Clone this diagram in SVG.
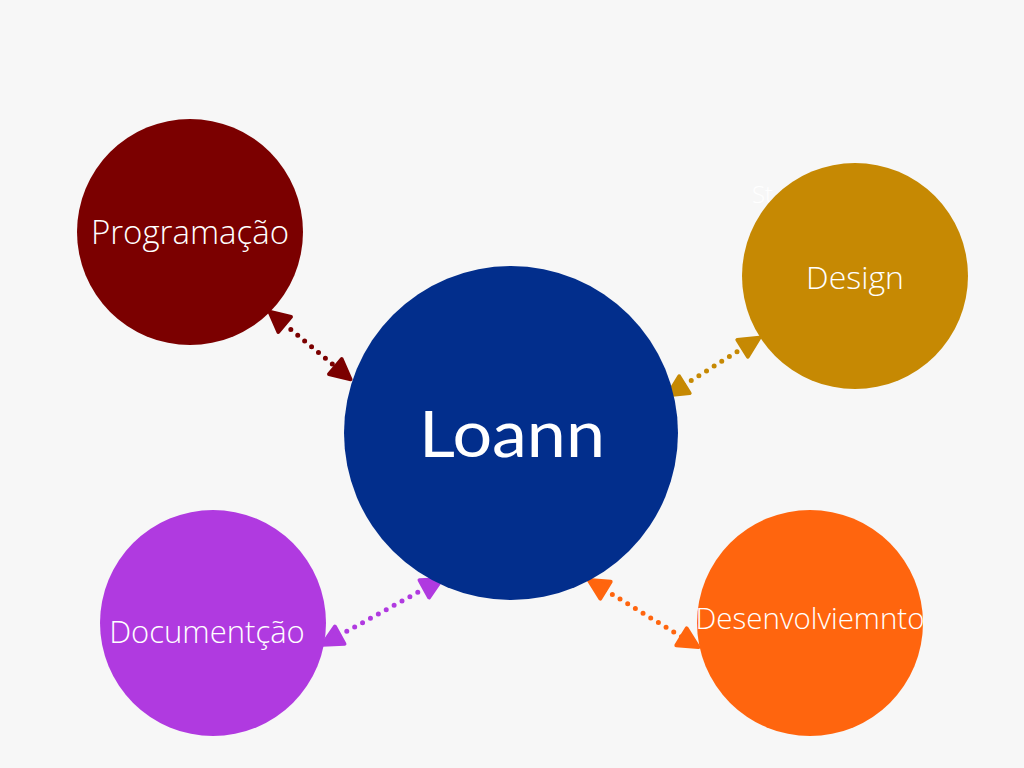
<svg xmlns="http://www.w3.org/2000/svg" width="1024" height="768" viewBox="0 0 1024 768">
<style>
.lbl{font-family:"Open Sans","Noto Sans","Liberation Sans",sans-serif;font-weight:300;fill:#ffffff;text-anchor:middle}
.main{font-family:Lato,"Inter","Liberation Sans",sans-serif;font-weight:400;fill:#ffffff;text-anchor:middle}
.con{fill:none;stroke-width:5;stroke-linecap:round;stroke-dasharray:0 9}
</style>
<defs>
<marker id="mR" viewBox="0 0 10 10" refX="5" refY="5" markerWidth="5" markerHeight="5" markerUnits="strokeWidth" orient="auto-start-reverse"><path d="M1,1 L9,5 L1,9 Z" fill="#7B0000" stroke="#7B0000" stroke-width="1.5" stroke-linejoin="round"/></marker>
<marker id="mG" viewBox="0 0 10 10" refX="5" refY="5" markerWidth="5" markerHeight="5" markerUnits="strokeWidth" orient="auto-start-reverse"><path d="M1,1 L9,5 L1,9 Z" fill="#C68903" stroke="#C68903" stroke-width="1.5" stroke-linejoin="round"/></marker>
<marker id="mP" viewBox="0 0 10 10" refX="5" refY="5" markerWidth="5" markerHeight="5" markerUnits="strokeWidth" orient="auto-start-reverse"><path d="M1,1 L9,5 L1,9 Z" fill="#B03AE0" stroke="#B03AE0" stroke-width="1.5" stroke-linejoin="round"/></marker>
<marker id="mO" viewBox="0 0 10 10" refX="5" refY="5" markerWidth="5" markerHeight="5" markerUnits="strokeWidth" orient="auto-start-reverse"><path d="M1,1 L9,5 L1,9 Z" fill="#FF650E" stroke="#FF650E" stroke-width="1.5" stroke-linejoin="round"/></marker>
</defs>
<rect width="1024" height="768" fill="#F7F7F7"/>
<text x="752" y="203" font-family="Open Sans, sans-serif" font-weight="300" font-size="24" fill="#ffffff">St</text>
<g id="connectors">
<line class="con" stroke="#7B0000" x1="277" y1="318" x2="343" y2="373" marker-start="url(#mR)" marker-end="url(#mR)"/>
<line class="con" stroke="#C68903" x1="676" y1="390" x2="751" y2="343" marker-start="url(#mG)" marker-end="url(#mG)"/>
<line class="con" stroke="#B03AE0" x1="331" y1="640" x2="433" y2="584" marker-start="url(#mP)" marker-end="url(#mP)"/>
<line class="con" stroke="#FF650E" x1="597" y1="585" x2="690" y2="642" marker-start="url(#mO)" marker-end="url(#mO)"/>
</g>
<g id="node-programacao">
<circle cx="190" cy="232" r="113" fill="#7B0000"/>
<text class="lbl" x="190" y="244" font-size="33">Programação</text>
</g>
<g id="node-design">
<circle cx="855" cy="276" r="113" fill="#C68903"/>
<text class="lbl" x="855" y="289" font-size="32">Design</text>
</g>
<g id="node-loann">
<circle cx="511" cy="433" r="167" fill="#022E8C"/>
<text class="main" x="512" y="457" font-size="63" textLength="186" lengthAdjust="spacingAndGlyphs">Loann</text>
</g>
<g id="node-documentcao">
<circle cx="213" cy="623" r="113" fill="#B03AE0"/>
<text class="lbl" x="207" y="643" font-size="31">Documentção</text>
</g>
<g id="node-desenvolvimento">
<circle cx="810" cy="623" r="113" fill="#FF650E"/>
<text class="lbl" x="810" y="629" font-size="29.5">Desenvolviemnto</text>
</g>
</svg>
